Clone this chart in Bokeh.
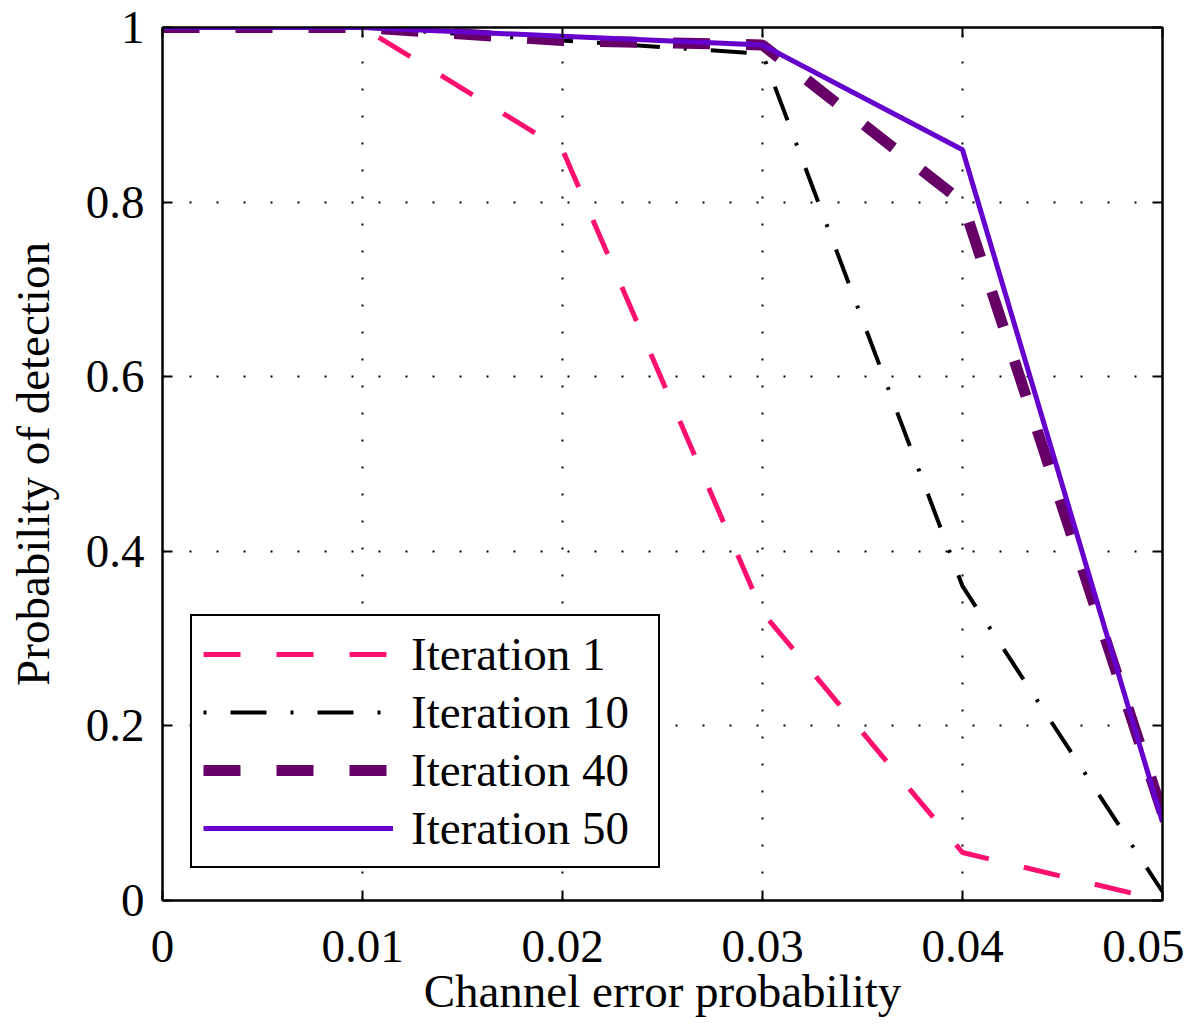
from bokeh.plotting import figure
from bokeh.models import LinearAxis, Range1d, FixedTicker, Legend, LegendItem
from bokeh.embed import file_html
from bokeh.resources import INLINE

x = [0.0, 0.01, 0.02, 0.03, 0.04, 0.05]
iter1 = [1.0, 1.0, 0.86, 0.33, 0.055, 0.0]
iter10 = [1.0, 1.0, 0.985, 0.97, 0.36, 0.01]
iter40 = [1.0, 1.0, 0.985, 0.98, 0.80, 0.10]
iter50 = [1.0, 1.0, 0.99, 0.98, 0.86, 0.09]
x_ticks = [0, 0.01, 0.02, 0.03, 0.04, 0.05]
y_ticks = [0, 0.2, 0.4, 0.6, 0.8, 1.0]
x_labels = {0: "0", 0.01: "0.01", 0.02: "0.02", 0.03: "0.03", 0.04: "0.04", 0.05: "0.05"}
y_labels = {0: "0", 0.2: "0.2", 0.4: "0.4", 0.6: "0.6", 0.8: "0.8", 1.0: "1"}

FONT = "Liberation Serif"
FS = "47px"

p = figure(width=1184, height=1028, output_backend="svg", toolbar_location=None,
           x_range=Range1d(0, 0.05), y_range=Range1d(0, 1),
           min_border_left=162, min_border_right=22, min_border_top=27, min_border_bottom=128,
           x_axis_label="Channel error probability", y_axis_label="Probability of detection")
p.background_fill_color = "white"
p.border_fill_color = "white"
p.outline_line_color = "black"
p.outline_line_width = 2

for ax, ticks, labels in ((p.xaxis[0], x_ticks, x_labels), (p.yaxis[0], y_ticks, y_labels)):
    ax.ticker = FixedTicker(ticks=ticks)
    ax.major_label_overrides = labels
    ax.major_label_text_font = FONT
    ax.major_label_text_font_size = FS
    ax.major_label_text_color = "black"
    ax.axis_label_text_font = FONT
    ax.axis_label_text_font_size = FS
    ax.axis_label_text_font_style = "normal"
    ax.axis_label_text_color = "black"
    ax.major_tick_in = 10
    ax.major_tick_out = 0
    ax.minor_tick_in = 0
    ax.minor_tick_out = 0
    ax.axis_line_width = 2
    ax.major_tick_line_width = 2
    ax.axis_line_color = "black"
    ax.major_tick_line_color = "black"

p.xaxis[0].major_label_standoff = 30
p.xaxis[0].axis_label_standoff = 0
p.yaxis[0].major_label_standoff = 18
p.yaxis[0].axis_label_standoff = 24

for loc, ticks in (("right", y_ticks), ("above", x_ticks)):
    a = LinearAxis(ticker=FixedTicker(ticks=ticks),
                   major_label_overrides={t: "" for t in ticks},
                   major_tick_in=10, major_tick_out=0, minor_tick_in=0, minor_tick_out=0,
                   axis_line_width=2, major_tick_line_width=2, major_label_standoff=0,
                   axis_line_color="black", major_tick_line_color="black")
    p.add_layout(a, loc)

p.xgrid.ticker = FixedTicker(ticks=x_ticks)
p.ygrid.ticker = FixedTicker(ticks=y_ticks)
for g in (p.xgrid[0], p.ygrid[0]):
    g.grid_line_color = "black"
    g.grid_line_width = 2
    g.grid_line_dash = "2 25"
    g.grid_line_alpha = 1.0

r1 = p.line(x, iter1, line_color="#ff1070", line_width=5, line_dash="37 36", line_cap="butt")
r10 = p.line(x, iter10, line_color="black", line_width=4, line_dash="3 24 36 24", line_cap="butt")
r40 = p.line(x, iter40, line_color="#660066", line_width=11, line_dash="37 36", line_cap="butt")
r50 = p.line(x, iter50, line_color="#6600cc", line_width=5)

legend = Legend(items=[LegendItem(label="Iteration 1", renderers=[r1]),
                       LegendItem(label="Iteration 10", renderers=[r10]),
                       LegendItem(label="Iteration 40", renderers=[r40]),
                       LegendItem(label="Iteration 50", renderers=[r50])],
                location=(28, 32))
legend.label_text_font = FONT
legend.label_text_font_size = FS
legend.label_text_color = "black"
legend.glyph_width = 190
legend.glyph_height = 40
legend.label_height = 40
legend.label_width = 236
legend.spacing = 4
legend.padding = 11
legend.margin = 0
legend.label_standoff = 18
legend.border_line_color = "black"
legend.border_line_width = 2
legend.border_line_alpha = 1.0
legend.background_fill_alpha = 1.0
p.add_layout(legend, "center")

open("out.html", "w").write(file_html(p, INLINE))
